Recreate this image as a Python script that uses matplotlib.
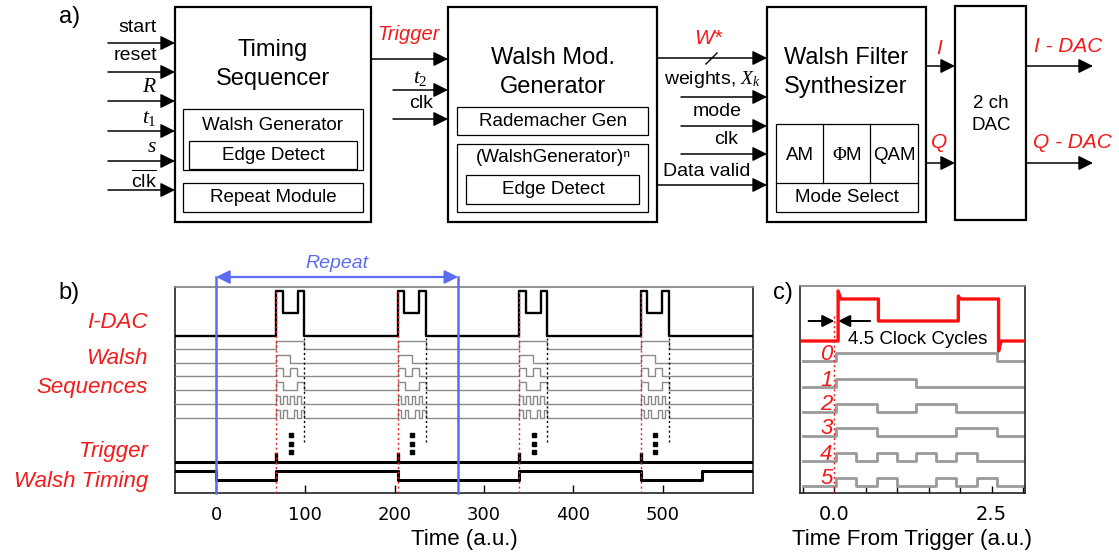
import matplotlib
matplotlib.use('Agg')
import matplotlib.pyplot as plt
from matplotlib.patches import Rectangle
import numpy as np

# ---------------- data ----------------
# panel b (Time, a.u.)
b_pulse_starts = [67.5, 203.5, 339.5, 475.5]
b_idac_rel_t = [0, 0, 7, 7, 24, 24, 31, 31]
b_idac_rel_lv = ['base', 'top', 'top', 'dip', 'dip', 'top', 'top', 'base']
b_walsh_duration = 31
b_walsh_timing_edges = [0, 67.5, 203.5, 339.5, 475.5, 543.5]
b_repeat_span = [0, 271]
b_xticks = [0, 100, 200, 300, 400, 500]

# Walsh sequences 0..5 (8 sub-intervals each)
walsh_bits = [
    [1, 1, 1, 1, 1, 1, 1, 1],
    [1, 1, 1, 1, 0, 0, 0, 0],
    [1, 1, 0, 0, 1, 1, 0, 0],
    [1, 1, 0, 0, 0, 0, 1, 1],
    [1, 0, 1, 0, 1, 0, 1, 0],
    [1, 0, 1, 0, 0, 1, 0, 1],
]
walsh_names = ['0', '1', '2', '3', '4', '5']

# panel c (Time From Trigger, a.u.)
c_walsh_edges = [0.03, 0.35, 0.67, 0.99, 1.30, 1.62, 1.94, 2.26, 2.59]
c_idac_t = [-0.51, 0.06, 0.06, 0.10, 0.70, 0.70, 1.97, 1.97, 2.00, 2.61, 2.61, 2.65, 3.00]
c_idac_y = [152, 152, 202, 194, 194, 172, 172, 197, 194, 194, 142, 152, 152]
c_xticks = [-0.5, 0.0, 0.5, 1.0, 1.5, 2.0, 2.5, 3.0]
c_xticklabels = ['', '0.0', '', '', '', '', '2.5', '']

a_inputs = ['start', 'reset', '$R$', '$t_1$', '$s$', r'$\overline{\mathsf{clk}}$']

# ---------------- style ----------------
W, H = 1119, 553
SANS = 'Liberation Sans'
RED = '#f21a1a'
BLUE = '#5b6cf2'
GRAY = '#8a8a8a'
plt.rcParams['font.family'] = [SANS, 'DejaVu Sans']
plt.rcParams['mathtext.fontset'] = 'custom'
plt.rcParams['mathtext.rm'] = 'Liberation Serif'
plt.rcParams['mathtext.it'] = 'Liberation Serif:italic'
plt.rcParams['mathtext.sf'] = 'Liberation Sans'

fig = plt.figure(figsize=(W / 100, H / 100), dpi=100)
ov = fig.add_axes([0, 0, 1, 1])
ov.set_xlim(0, W)
ov.set_ylim(H, 0)
ov.axis('off')


def box(x0, y0, x1, y1, lw=0.9):
    ov.add_patch(Rectangle((x0, y0), x1 - x0, y1 - y0, fill=False, lw=lw, ec='black'))


def arrow(ax, x0, x1, y, lw=1.1, color='black', ms=22):
    ax.annotate('', xy=(x1, y), xytext=(x0, y),
                arrowprops=dict(arrowstyle='-|>', lw=lw, color=color,
                                mutation_scale=ms, shrinkA=0, shrinkB=0),
                annotation_clip=False)


def txt(x, y, s, size=13.5, color='black', style='normal', ha='center'):
    ov.text(x, y, s, fontsize=size, color=color, style=style, ha=ha, va='center')


# ---------------- panel a ----------------
txt(70, 17, 'a)', size=17)
# Timing Sequencer
box(175, 7, 371, 222, lw=1.6)
txt(273, 50, 'Timing', size=17)
txt(273, 79, 'Sequencer', size=17)
box(183, 109, 363, 170)
txt(273, 126, 'Walsh Generator')
box(189, 141, 357, 169)
txt(273, 155, 'Edge Detect')
box(183, 183, 363, 212)
txt(273, 197, 'Repeat Module')
in_y = [43, 72, 101, 131, 161, 190]
lab_y = [27, 56, 87, 117, 146, 180]
for lab, y, ly in zip(a_inputs, in_y, lab_y):
    arrow(ov, 108, 175, y)
    txt(157, ly, lab, ha='right', size=14 if '$' not in lab or 'clk' in lab else 15.5)

# Walsh Mod Generator
box(448, 7, 657, 222, lw=1.6)
txt(553, 58, 'Walsh Mod.', size=17)
txt(553, 87, 'Generator', size=17)
box(457, 107, 648, 135)
txt(553, 121, 'Rademacher Gen')
box(457, 144, 648, 212)
txt(553, 158, '(WalshGenerator)ⁿ')
box(466, 175, 639, 204)
txt(553, 189, 'Edge Detect')
arrow(ov, 371, 448, 59)
txt(408, 35, 'Trigger', size=14.5, color=RED, style='italic')
arrow(ov, 393, 448, 90)
txt(420, 78, '$t_2$', size=15.5)
arrow(ov, 393, 448, 119)
txt(421, 104, 'clk', size=14)

# Walsh Filter Synthesizer
box(767, 7, 926, 222, lw=1.6)
txt(846, 58, 'Walsh Filter', size=17)
txt(846, 87, 'Synthesizer', size=17)
box(776, 124, 918, 212)
ov.plot([776, 918], [183, 183], color='black', lw=0.9)
ov.plot([823, 823], [124, 183], color='black', lw=0.9)
ov.plot([870, 870], [124, 183], color='black', lw=0.9)
txt(800, 156, 'AM')
txt(847, 156, r'$\Phi$M')
txt(894, 156, 'QAM')
txt(847, 197, 'Mode Select')
arrow(ov, 657, 767, 58)
ov.plot([706, 717], [64, 53], color='black', lw=1.0)
txt(708, 38, 'W*', size=15, color=RED, style='italic')
txt(713, 79, 'weights, $X_k$', size=14)
arrow(ov, 681, 767, 97)
txt(717, 111, 'mode', size=14)
arrow(ov, 681, 767, 126)
txt(726, 140, 'clk', size=14)
arrow(ov, 681, 767, 154)
txt(707, 172, 'Data valid', size=14)
arrow(ov, 657, 767, 185)

# DAC
box(955, 6, 1026, 220, lw=1.6)
txt(991, 103, '2 ch')
txt(991, 125, 'DAC')
arrow(ov, 926, 955, 66)
txt(939, 49, 'I', size=15, color=RED, style='italic')
arrow(ov, 926, 955, 163)
txt(939, 142, 'Q', size=15, color=RED, style='italic')
arrow(ov, 1026, 1093, 66)
txt(1068, 47, 'I - DAC', size=15, color=RED, style='italic')
arrow(ov, 1026, 1093, 163)
txt(1072, 142, 'Q - DAC', size=15, color=RED, style='italic')

# ---------------- panel b ----------------
txt(69, 293, 'b)', size=17)
for s, y in [('I-DAC', 323), ('Walsh', 359), ('Sequences', 388), ('Trigger', 452), ('Walsh Timing', 481)]:
    txt(148, y, s, size=16, color=RED, style='italic', ha='right')

axb = fig.add_axes([175 / W, (H - 493) / H, (753 - 175) / W, (493 - 287) / H])
BX0, BX1 = -46, 601
axb.set_xlim(BX0, BX1)
axb.set_ylim(0, 206)
lv = {'base': 157, 'top': 202, 'dip': 180}
walsh_b_base = [144, 130, 117, 103, 89, 75]
WAMP_B = 8.5
TRIG, TRIG_SPIKE = 31, 39
WT_HIGH, WT_LOW = 22, 13

# I-DAC
xs, ys = [BX0], [lv['base']]
for s0 in b_pulse_starts:
    for rt, l in zip(b_idac_rel_t, b_idac_rel_lv):
        xs.append(s0 + rt)
        ys.append(lv[l])
xs.append(BX1)
ys.append(lv['base'])
axb.plot(xs, ys, color='black', lw=1.7, zorder=4)

# Walsh sequences
seg = b_walsh_duration / 8
for base, bits in zip(walsh_b_base, walsh_bits):
    xs, ys = [BX0], [base]
    for s0 in b_pulse_starts:
        for j, bit in enumerate(bits):
            xs.append(s0 + j * seg)
            ys.append(base + WAMP_B * bit)
        xs.append(s0 + b_walsh_duration)
        ys.append(base)
    xs.append(BX1)
    ys.append(base)
    axb.plot(xs, ys, drawstyle='steps-post', color=GRAY, lw=1.0, zorder=3)

for s0 in b_pulse_starts:
    axb.plot([s0, s0], [0, 204], color=RED, lw=1.0, ls=(0, (1.5, 2)), zorder=5)
    axb.plot([s0 + b_walsh_duration] * 2, [51, 155], color='black', lw=1.0, ls=(0, (1.5, 2)), zorder=5)
    axb.plot([s0 + 16] * 3, [58, 49.5, 41], ls='none', marker='s', ms=2.2, color='black')
    axb.plot([s0, s0], [TRIG, TRIG_SPIKE], color='black', lw=2.4, zorder=4)

axb.plot([BX0, BX1], [TRIG, TRIG], color='black', lw=2.2, zorder=4)
xs, ys = [BX0], [WT_HIGH]
state = True
for e in b_walsh_timing_edges:
    state = not state
    xs.append(e)
    ys.append(WT_HIGH if state else WT_LOW)
xs.append(BX1)
ys.append(ys[-1])
axb.plot(xs, ys, drawstyle='steps-post', color='black', lw=2.2, zorder=4)

# Repeat markers
for rx in b_repeat_span:
    axb.plot([rx, rx], [0, 216], color=BLUE, lw=1.8, clip_on=False, zorder=6)
axb.annotate('', xy=(b_repeat_span[1], 216), xytext=(b_repeat_span[0], 216),
             arrowprops=dict(arrowstyle='<|-|>', lw=1.6, color=BLUE, mutation_scale=20,
                             shrinkA=0, shrinkB=0), annotation_clip=False)
axb.text(sum(b_repeat_span) / 2, 229, 'Repeat', fontsize=14, color=BLUE, style='italic',
         ha='center', va='center')

axb.set_xticks(b_xticks)
axb.set_yticks([])
axb.tick_params(axis='x', direction='in', length=6, width=1.0, pad=9, labelsize=13)
for lab in axb.get_xticklabels():
    lab.set_family('DejaVu Sans')
axb.set_xlabel('Time (a.u.)', fontsize=16, labelpad=4)
for sp in axb.spines.values():
    sp.set_linewidth(1.2)
    sp.set_color('#222222')
axb.spines['top'].set_color('#808080')

# ---------------- panel c ----------------
txt(783, 293, 'c)', size=17)
axc = fig.add_axes([800 / W, (H - 493) / H, (1025 - 800) / W, (493 - 286) / H])
CX0, CX1 = -0.546, 3.03
axc.set_xlim(CX0, CX1)
axc.set_ylim(0, 207)
walsh_c_low = [132, 106, 81, 57, 32, 7]
WAMP_C = 8
for name, low, bits in zip(walsh_names, walsh_c_low, walsh_bits):
    xs = [-0.5] + c_walsh_edges + [3.0]
    ys = [low] + [low + WAMP_C * b for b in bits] + [low, low]
    axc.plot(xs, ys, drawstyle='steps-post', color='#9a9a9a', lw=2.0)
    axc.text(-0.03, low + 7, name, fontsize=16, color=RED, style='italic', ha='right', va='center')

axc.plot(c_idac_t, c_idac_y, color='#ff1010', lw=2.4, zorder=4)
axc.plot([0, 0], [0, 178], color=RED, lw=1.0, ls=(0, (1.5, 2)), zorder=5)
arrow(axc, -0.41, 0.0, 172, lw=1.4, ms=18)
arrow(axc, 0.57, 0.06, 172, lw=1.4, ms=18)
axc.text(1.32, 153, '4.5 Clock Cycles', fontsize=13.5, ha='center', va='center')

axc.set_xticks(c_xticks)
axc.set_xticklabels(c_xticklabels)
axc.set_yticks([])
axc.tick_params(axis='x', direction='in', length=5, width=1.0, pad=9, labelsize=14)
for lab in axc.get_xticklabels():
    lab.set_family('DejaVu Sans')
axc.set_xlabel('Time From Trigger (a.u.)', fontsize=16, labelpad=3)
for sp in axc.spines.values():
    sp.set_linewidth(1.2)
    sp.set_color('#222222')
axc.spines['top'].set_color('#808080')

fig.savefig('out.png', dpi=100)
